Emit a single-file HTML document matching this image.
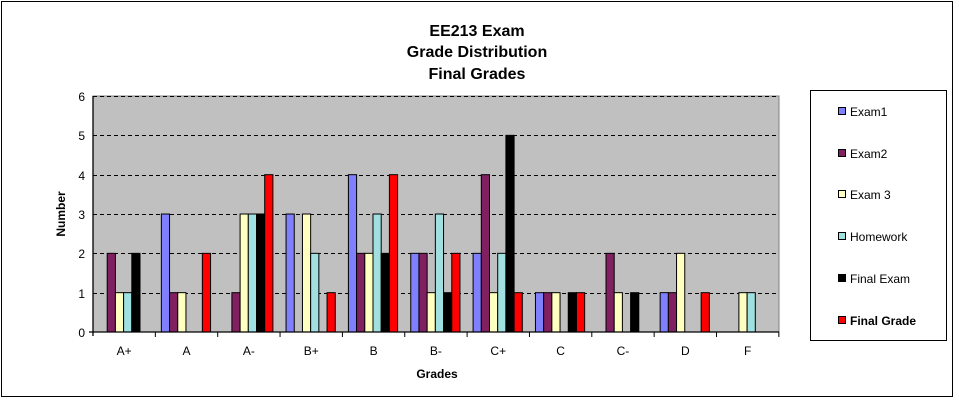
<!DOCTYPE html>
<html><head><style>body{margin:0;background:#fff}svg{display:block;font-family:"Liberation Sans",Arial,sans-serif}</style></head><body>
<svg width="959" height="401" xmlns="http://www.w3.org/2000/svg">
<rect x="1.5" y="1.5" width="951" height="395" fill="#fff" stroke="#000" stroke-width="1"/>
<g font-weight="bold" font-size="16" text-anchor="middle" fill="#000">
<text x="477" y="36">EE213 Exam</text>
<text x="477" y="57">Grade Distribution</text>
<text x="477" y="79">Final Grades</text>
</g>
<rect x="93" y="96" width="686" height="236" fill="#c0c0c0" stroke="#808080" stroke-width="1"/>
<g stroke="#000" stroke-dasharray="4,3" stroke-width="1">
<line x1="93" x2="779" y1="96.5" y2="96.5"/>
<line x1="93" x2="779" y1="135.5" y2="135.5"/>
<line x1="93" x2="779" y1="175.5" y2="175.5"/>
<line x1="93" x2="779" y1="214.5" y2="214.5"/>
<line x1="93" x2="779" y1="253.5" y2="253.5"/>
<line x1="93" x2="779" y1="293.5" y2="293.5"/>
</g>
<g id="bars" stroke="#000" stroke-width="1"></g>
<g stroke="#000" stroke-width="1.3">
<line x1="93" y1="96" x2="93" y2="336"/>
<line x1="89" y1="332" x2="779" y2="332"/>
</g>
<g id="ticks" stroke="#000" stroke-width="1"></g>
<g font-size="12" text-anchor="end" fill="#000">
<text x="85" y="101">6</text><text x="85" y="140">5</text><text x="85" y="180">4</text><text x="85" y="219">3</text><text x="85" y="258">2</text><text x="85" y="298">1</text><text x="85" y="337">0</text>
</g>
<g id="xl" font-size="12" text-anchor="middle" fill="#000"></g>
<text x="437" y="378" font-size="12" font-weight="bold" text-anchor="middle">Grades</text>
<text transform="translate(65,214) rotate(-90)" font-size="12" font-weight="bold" text-anchor="middle">Number</text>
<rect x="810.5" y="90.5" width="136" height="250" fill="#fff" stroke="#000"/>
<g font-size="12" fill="#000">
<rect x="838.5" y="107.5" width="7" height="7" fill="#8080ff" stroke="#000"/><text x="850" y="116">Exam1</text>
<rect x="838.5" y="149.5" width="7" height="7" fill="#802060" stroke="#000"/><text x="850" y="158">Exam2</text>
<rect x="838.5" y="190.5" width="7" height="7" fill="#ffffc0" stroke="#000"/><text x="850" y="199">Exam 3</text>
<rect x="838.5" y="232.5" width="7" height="7" fill="#a0e0e0" stroke="#000"/><text x="850" y="241">Homework</text>
<rect x="838.5" y="274.5" width="7" height="7" fill="#000" stroke="#000"/><text x="850" y="283">Final Exam</text>
<rect x="838.5" y="316.5" width="7" height="7" fill="#f00" stroke="#000"/><text x="850" y="325" font-weight="bold">Final Grade</text>
</g>
<script>
var d=[[0,2,1,1,2,0],[3,1,1,0,0,2],[0,1,3,3,3,4],[3,0,3,2,0,1],[4,2,2,3,2,4],[2,2,1,3,1,2],[2,4,1,2,5,1],[1,1,1,0,1,1],[0,2,1,0,1,0],[1,1,2,0,0,1],[0,0,1,1,0,0]];
var c=["#8080ff","#802060","#ffffc0","#a0e0e0","#000","#f00"];
var L=["A+","A","A-","B+","B","B-","C+","C","C-","D","F"];
var ns="http://www.w3.org/2000/svg",g=document.getElementById("bars"),t=document.getElementById("ticks"),xl=document.getElementById("xl");
var gw=62.35,u=39.33;
for(var i=0;i<11;i++){var x0=93+i*gw;
for(var j=0;j<6;j++){if(!d[i][j])continue;var r=document.createElementNS(ns,"rect");var h=d[i][j]*u;
r.setAttribute("x",x0+6+j*8.2);r.setAttribute("y",332-h);r.setAttribute("width",8.2);r.setAttribute("height",h);r.setAttribute("fill",c[j]);g.appendChild(r);}
var l=document.createElementNS(ns,"line");l.setAttribute("x1",x0+gw);l.setAttribute("x2",x0+gw);l.setAttribute("y1",332);l.setAttribute("y2",337);t.appendChild(l);
var tx=document.createElementNS(ns,"text");tx.setAttribute("x",x0+gw/2);tx.setAttribute("y",355);tx.textContent=L[i];xl.appendChild(tx);}
</script>
</svg>
</body></html>
